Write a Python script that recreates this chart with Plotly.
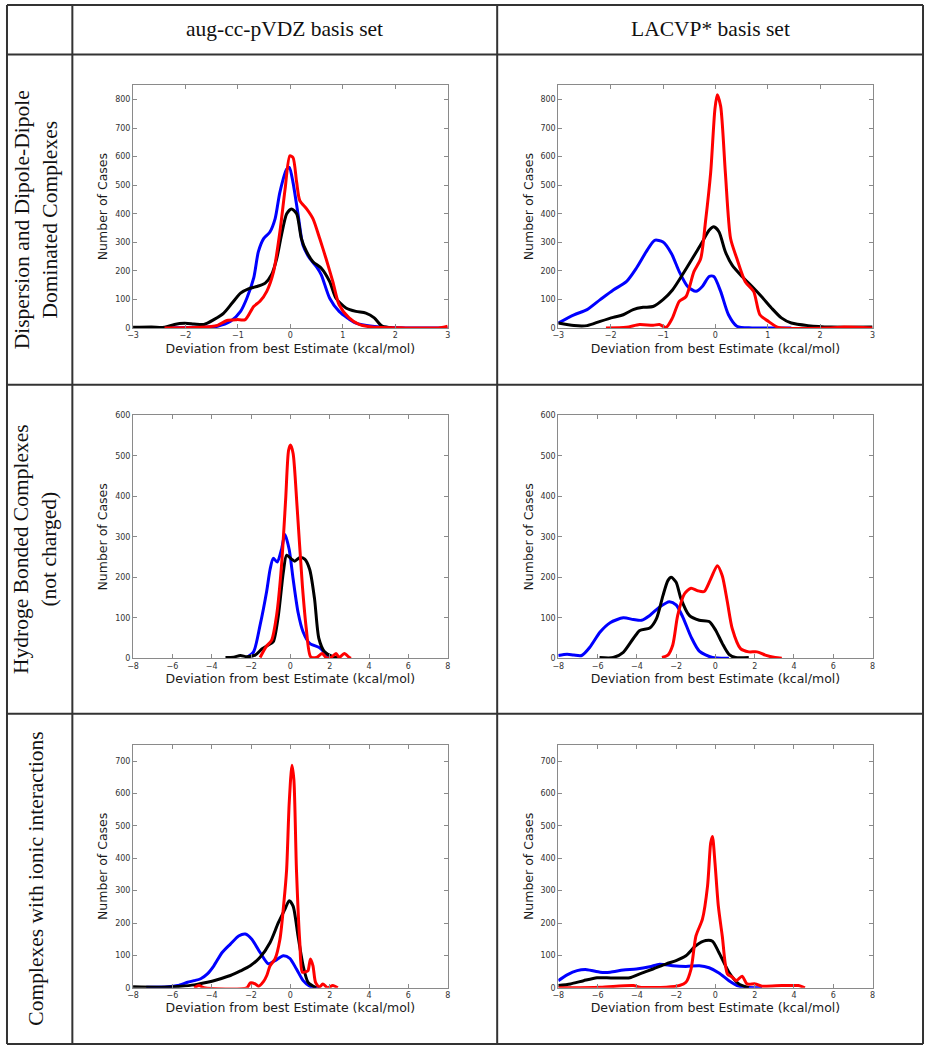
import plotly.graph_objects as go

W, H = 927, 1050

# column / row headings of the table
col_headers = ["aug-cc-pVDZ basis set", "LACVP* basis set"]
row_headers = [
    "Dispersion and Dipole-Dipole<br>Dominated Complexes",
    "Hydroge Bonded Complexes<br>(not charged)",
    "Complexes with ionic interactions",
]

# --- Dispersion / aug-cc-pVDZ ---
disp_aug_blue_x = [-2.4, -1.8, -1.39, -1.14, -0.95, -0.83, -0.70, -0.61, -0.51, -0.39, -0.29, -0.20, -0.07, -0.02,
                   0.05, 0.15, 0.24, 0.37, 0.50, 0.59, 0.75, 0.93, 1.25, 1.56, 2.2, 3.0]
disp_aug_blue_y = [0, 2, 6, 23, 58, 104, 174, 267, 313, 336, 383, 475, 556, 562,
                   510, 394, 290, 243, 214, 186, 104, 58, 17, 6, 0, 0]
disp_aug_black_x = [-3, -2.65, -2.4, -2.21, -2.02, -1.84, -1.65, -1.46, -1.27, -1.11, -0.95, -0.80, -0.64, -0.48,
                    -0.36, -0.26, -0.17, -0.07, 0.02, 0.12, 0.21, 0.31, 0.43, 0.59, 0.75, 0.87, 1.06, 1.25, 1.44,
                    1.60, 1.75, 1.94]
disp_aug_black_y = [2, 3, 2, 12, 16, 14, 12, 29, 52, 87, 122, 137, 145, 157,
                    186, 243, 325, 400, 417, 400, 313, 267, 232, 209, 162, 104, 70, 58, 52,
                    35, 6, 0]
disp_aug_red_x = [-2.4, -1.71, -1.39, -1.21, -1.02, -0.86, -0.70, -0.58, -0.45, -0.32, -0.20, -0.10, -0.01, 0.05,
                  0.12, 0.18, 0.31, 0.43, 0.56, 0.68, 0.81, 0.93, 1.12, 1.31, 1.56, 2.2, 2.82, 3.0]
disp_aug_red_y = [0, 2, 9, 26, 29, 29, 75, 93, 128, 197, 336, 487, 603, 597,
                  510, 446, 417, 383, 313, 243, 162, 81, 35, 12, 3, 0, 0, 6]

# --- Dispersion / LACVP* ---
disp_lac_blue_x = [-3, -2.70, -2.45, -2.20, -1.95, -1.70, -1.51, -1.32, -1.16, -1.00, -0.84, -0.69, -0.53, -0.37,
                   -0.25, -0.12, -0.03, 0.10, 0.25, 0.41, 0.70, 1.45]
disp_lac_blue_y = [17, 46, 64, 99, 133, 162, 209, 267, 307, 301, 261, 197, 145, 128,
                   145, 180, 180, 128, 46, 6, 0, 0]
disp_lac_black_x = [-3, -2.7, -2.45, -2.2, -1.95, -1.76, -1.57, -1.38, -1.19, -1.0, -0.82, -0.63, -0.44, -0.25,
                    -0.12, -0.03, 0.07, 0.19, 0.32, 0.51, 0.70, 0.88, 1.07, 1.26, 1.45, 1.77, 2.21, 3.0]
disp_lac_black_y = [17, 8, 8, 23, 37, 46, 64, 72, 75, 99, 133, 186, 243, 301,
                    342, 354, 336, 267, 220, 180, 145, 110, 70, 35, 17, 8, 3, 3]
disp_lac_red_x = [-2.09, -1.70, -1.45, -1.19, -1.07, -0.94, -0.82, -0.69, -0.56, -0.41, -0.28, -0.19, -0.09, -0.01,
                  0.035, 0.10, 0.19, 0.29, 0.41, 0.57, 0.73, 0.85, 1.01, 1.2, 2.2, 2.46, 3.0]
disp_lac_red_y = [0, 2, 12, 9, 12, 2, 35, 93, 110, 197, 243, 371, 545, 765,
                  817, 777, 545, 313, 243, 162, 128, 46, 23, 2, 0, 3, 0]

# --- H-bonded / aug-cc-pVDZ ---
hb_aug_blue_x = [-2.21, -1.87, -1.54, -1.20, -1.03, -0.87, -0.67, -0.45, -0.28, -0.06, 0.14, 0.39, 0.65, 0.98,
                 1.49, 1.82, 2.08]
hb_aug_blue_y = [2, 16, 82, 167, 220, 247, 238, 269, 306, 269, 196, 114, 65, 37,
                 26, 10, 0]
hb_aug_black_x = [-3.30, -2.88, -2.54, -2.21, -1.79, -1.45, -1.12, -0.87, -0.61, -0.36, -0.19, 0.06, 0.22, 0.48,
                  0.73, 0.98, 1.23, 1.45, 1.74, 2.16, 2.49]
hb_aug_black_y = [2, 3, 7, 4, 8, 23, 33, 41, 106, 212, 255, 245, 240, 249,
                  245, 220, 147, 49, 16, 4, 2]
hb_aug_red_x = [-1.54, -1.23, -0.95, -0.70, -0.45, -0.24, -0.09, 0.01, 0.14, 0.34, 0.61, 0.81, 1.03, 1.32,
                1.62, 1.82, 2.07, 2.32, 2.49, 2.74, 3.0, 3.08]
hb_aug_red_y = [2, 29, 45, 106, 229, 392, 514, 527, 506, 376, 180, 73, 4, 2,
                12, 2, 2, 12, 2, 12, 2, 0]

# --- H-bonded / LACVP* ---
hb_lac_blue_x = [-8, -7.55, -7.21, -6.81, -6.37, -5.87, -5.36, -4.69, -4.18, -3.76, -3.34, -2.84, -2.34, -2.0,
                 -1.66, -1.24, -0.82, -0.15, 0.69]
hb_lac_blue_y = [7, 10, 8, 7, 29, 65, 88, 100, 96, 94, 106, 127, 140, 132,
                 102, 53, 18, 2, 0]
hb_lac_black_x = [-5.9, -5.2, -4.69, -4.18, -3.85, -3.34, -3.0, -2.67, -2.42, -2.25, -2.0, -1.75, -1.33, -0.82,
                  -0.32, 0.02, 0.35, 0.69, 1.03, 1.70]
hb_lac_black_y = [2, 2, 15, 49, 69, 75, 98, 155, 192, 200, 188, 147, 106, 94,
                  91, 69, 37, 10, 2, 2]
hb_lac_red_x = [-2.72, -2.42, -2.17, -1.92, -1.58, -1.24, -0.91, -0.57, -0.24, 0.10, 0.35, 0.61, 0.86, 1.28,
                1.70, 2.12, 2.54, 3.04, 3.38]
hb_lac_red_y = [2, 8, 33, 106, 159, 173, 167, 165, 196, 229, 204, 139, 73, 24,
                16, 16, 8, 2, 0]

# --- Ionic / aug-cc-pVDZ ---
ion_aug_blue_x = [-7.33, -6.24, -5.73, -5.23, -4.89, -4.56, -4.22, -3.89, -3.47, -3.05, -2.63, -2.29, -1.96, -1.54,
                  -1.12, -0.78, -0.36, -0.03, 0.31, 0.65, 0.98, 1.48]
ion_aug_blue_y = [2, 3, 7, 17, 22, 28, 43, 68, 109, 135, 160, 166, 150, 109,
                  74, 84, 99, 91, 58, 22, 5, 0]
ion_aug_black_x = [-8, -6.57, -5.57, -4.89, -4.22, -3.72, -3.05, -2.54, -2.04, -1.54, -1.03, -0.61, -0.28, -0.06,
                   0.14, 0.39, 0.65, 0.90, 1.32]
ion_aug_black_y = [3, 2, 5, 9, 17, 25, 38, 52, 68, 94, 140, 201, 242, 269,
                   252, 160, 68, 17, 0]
ion_aug_red_x = [-4.89, -4.64, -4.39, -2.21, -2.04, -1.79, -1.62, -1.37, -1.20, -1.03, -0.78, -0.53, -0.33, -0.19,
                 -0.06, 0.08, 0.18, 0.31, 0.48, 0.61, 0.81, 0.90, 1.02, 1.15, 1.28, 1.48, 1.65, 1.90, 2.16, 2.41]
ion_aug_red_y = [0, 7, 0, 0, 15, 12, 5, 19, 38, 68, 89, 150, 263, 365,
                 569, 687, 641, 365, 140, 48, 50, 53, 89, 68, 17, 2, 12, 0, 7, 0]

# --- Ionic / LACVP* ---
ion_lac_blue_x = [-8, -7.55, -7.04, -6.54, -5.87, -5.36, -4.69, -4.02, -3.34, -2.84, -2.17, -1.50, -0.82, -0.32,
                  0.18, 0.69, 1.19, 2.03, 2.37]
ion_lac_blue_y = [22, 40, 53, 56, 48, 48, 55, 58, 65, 73, 68, 66, 68, 62,
                  46, 22, 5, 0, 0]
ion_lac_black_x = [-8, -7.38, -6.71, -6.03, -5.53, -5.03, -4.36, -3.85, -3.18, -2.50, -2.0, -1.50, -1.0, -0.49,
                   -0.15, 0.18, 0.69, 1.19, 1.70]
ion_lac_black_y = [7, 12, 22, 31, 31, 30, 31, 43, 58, 74, 84, 99, 130, 146,
                   144, 109, 48, 12, 0]
ion_lac_red_x = [-8, -5.87, -4.18, -3.85, -2.5, -1.83, -1.50, -1.24, -0.99, -0.66, -0.40, -0.24, -0.15, -0.02,
                 0.15, 0.35, 0.61, 0.86, 1.06, 1.36, 1.61, 2.03, 2.37, 3.38, 3.88, 4.22, 4.56]
ion_lac_red_y = [0, 2, 7, 2, 2, 7, 17, 58, 160, 212, 314, 447, 467, 385,
                 252, 160, 43, 33, 22, 36, 12, 12, 5, 7, 7, 7, 0]

x_title = "Deviation from best Estimate (kcal/mol)"
y_title = "Number of Cases"

panels = [
    # (row, col, curves, x range, x step, y range top)
    (0, 0, [(disp_aug_blue_x, disp_aug_blue_y, "blue"), (disp_aug_black_x, disp_aug_black_y, "black"),
            (disp_aug_red_x, disp_aug_red_y, "red")], [-3, 3], 1, 850),
    (0, 1, [(disp_lac_blue_x, disp_lac_blue_y, "blue"), (disp_lac_black_x, disp_lac_black_y, "black"),
            (disp_lac_red_x, disp_lac_red_y, "red")], [-3, 3], 1, 850),
    (1, 0, [(hb_aug_blue_x, hb_aug_blue_y, "blue"), (hb_aug_black_x, hb_aug_black_y, "black"),
            (hb_aug_red_x, hb_aug_red_y, "red")], [-8, 8], 2, 600),
    (1, 1, [(hb_lac_blue_x, hb_lac_blue_y, "blue"), (hb_lac_black_x, hb_lac_black_y, "black"),
            (hb_lac_red_x, hb_lac_red_y, "red")], [-8, 8], 2, 600),
    (2, 0, [(ion_aug_blue_x, ion_aug_blue_y, "blue"), (ion_aug_black_x, ion_aug_black_y, "black"),
            (ion_aug_red_x, ion_aug_red_y, "red")], [-8, 8], 2, 750),
    (2, 1, [(ion_lac_blue_x, ion_lac_blue_y, "blue"), (ion_lac_black_x, ion_lac_black_y, "black"),
            (ion_lac_red_x, ion_lac_red_y, "red")], [-8, 8], 2, 750),
]

# plot boxes in pixels
col_px = [(128.3, 446.0), (557.7, 875.0)]
row_px = [(82.0, 326.7), (415.0, 660.0), (747.3, 992.3)]

# table grid lines in pixels
grid_x = [1, 67, 496, 926]
grid_y = [1, 51, 384, 716, 1049]

AXIS_GRAY = "#8a8a8a"
TICK_FONT = dict(family="DejaVu Sans", size=8, color="#333333")
TITLE_FONT = dict(family="DejaVu Sans", size=12.5, color="#1a1a1a")
SERIF = dict(family="Liberation Serif", size=21.5, color="#111111")


def px_to_x(px):
    return px / W


def px_to_y(py):
    return 1 - py / H


fig = go.Figure()
layout = {}

for i, (row, col, curves, xr, dx, ytop) in enumerate(panels, 1):
    xname = "x" if i == 1 else f"x{i}"
    yname = "y" if i == 1 else f"y{i}"
    for xs, ys, color in curves:
        fig.add_trace(go.Scatter(
            x=xs, y=ys, mode="lines", xaxis=xname, yaxis=yname,
            line=dict(color=color, width=3, shape="spline", smoothing=0.7),
            showlegend=False, hoverinfo="skip",
        ))

    x0, x1 = col_px[col]
    y0, y1 = row_px[row]
    common = dict(
        showline=True, linecolor=AXIS_GRAY, linewidth=1, mirror="ticks",
        ticks="inside", ticklen=4, tickcolor=AXIS_GRAY, tickwidth=1,
        showgrid=False, zeroline=False, tickfont=TICK_FONT, fixedrange=True,
    )
    layout[f"xaxis{'' if i == 1 else i}"] = dict(
        common, domain=[px_to_x(x0), px_to_x(x1)], anchor=yname,
        range=xr, tickmode="linear", tick0=xr[0], dtick=dx,
        title=dict(text=x_title, font=TITLE_FONT, standoff=0),
    )
    layout[f"yaxis{'' if i == 1 else i}"] = dict(
        common, domain=[px_to_y(y1), px_to_y(y0)], anchor=xname,
        range=[0, ytop], tickmode="linear", tick0=0, dtick=100,
        title=dict(text=y_title, font=TITLE_FONT, standoff=4),
    )

shapes = []
for gx in grid_x:
    shapes.append(dict(type="line", xref="paper", yref="paper", x0=px_to_x(gx), x1=px_to_x(gx),
                       y0=px_to_y(grid_y[0]), y1=px_to_y(grid_y[-1]), line=dict(color="#333333", width=2)))
for gy in grid_y:
    shapes.append(dict(type="line", xref="paper", yref="paper", x0=px_to_x(grid_x[0]), x1=px_to_x(grid_x[-1]),
                       y0=px_to_y(gy), y1=px_to_y(gy), line=dict(color="#333333", width=2)))

annotations = []
for c, text in enumerate(col_headers):
    annotations.append(dict(
        text=text, xref="paper", yref="paper", showarrow=False,
        x=px_to_x((grid_x[c + 1] + grid_x[c + 2]) / 2), y=px_to_y((grid_y[0] + grid_y[1]) / 2 - 1),
        xanchor="center", yanchor="middle", font=SERIF,
    ))
for r, text in enumerate(row_headers):
    annotations.append(dict(
        text=text, xref="paper", yref="paper", showarrow=False, textangle=-90,
        x=px_to_x((grid_x[0] + grid_x[1]) / 2 - 4), y=px_to_y((grid_y[r + 1] + grid_y[r + 2]) / 2),
        xanchor="center", yanchor="middle", font=SERIF,
    ))

fig.update_layout(
    width=W, height=H,
    margin=dict(l=0, r=0, t=0, b=0),
    paper_bgcolor="white", plot_bgcolor="white",
    shapes=shapes, annotations=annotations,
    **layout,
)

# drop the default page margin so the figure sits at the window's top-left corner
fig.write_html(
    "out.html",
    config={"displayModeBar": False},
    post_script="document.body.style.margin='0';document.body.style.overflow='hidden';",
)
